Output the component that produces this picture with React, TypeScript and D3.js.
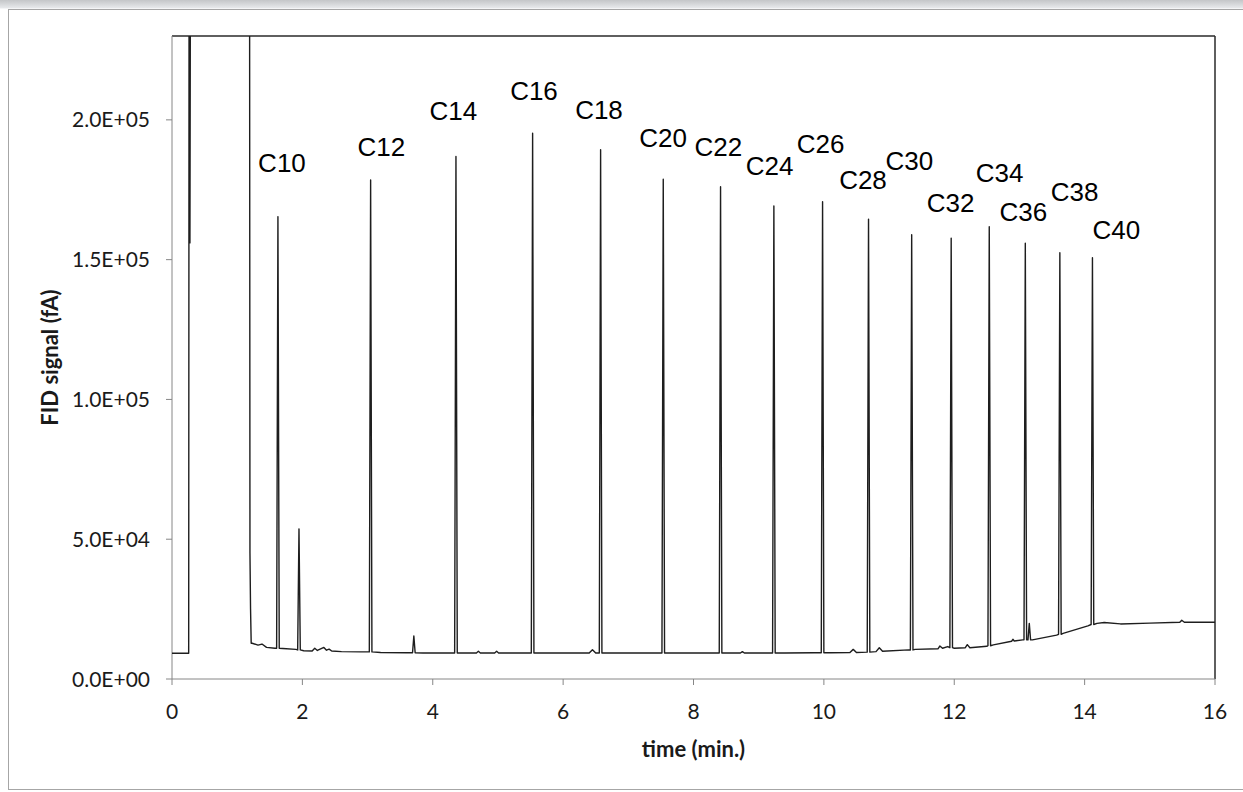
import React from 'react';
import * as d3 from 'd3';

// axis ticks
const xTicks = [0, 2, 4, 6, 8, 10, 12, 14, 16];
const yTicks = [0, 50000, 100000, 150000, 200000];

// n-alkane peaks (retention time in min, apex signal, baseline under the peak)
const carbonLabels = ['C10', 'C12', 'C14', 'C16', 'C18', 'C20', 'C22', 'C24', 'C26', 'C28', 'C30', 'C32', 'C34', 'C36', 'C38', 'C40'];
const carbonTimes = [1.625, 3.047, 4.356, 5.532, 6.575, 7.536, 8.415, 9.233, 9.98, 10.685, 11.347, 11.953, 12.537, 13.09, 13.62, 14.12];
const carbonHeights = [165400, 178500, 186900, 195200, 189300, 178800, 176100, 169200, 170700, 164500, 158900, 157700, 161800, 155900, 152500, 150700];
const carbonFoot = [11000, 9700, 9300, 9300, 9300, 9300, 9300, 9300, 9400, 9600, 10400, 11200, 11900, 14000, 16000, 19500];

// where each label sits (time, signal of text baseline)
const labelTimes = [1.687, 3.211, 4.315, 5.553, 6.55, 7.532, 8.38, 9.169, 9.951, 10.6, 11.31, 11.945, 12.697, 13.059, 13.847, 14.486];
const labelValues = [181400, 186900, 200000, 207200, 200400, 190200, 186900, 180200, 188100, 175200, 182100, 167200, 177900, 163900, 171100, 157300];

// unlabelled small peaks
const minorTimes = [1.948, 3.71, 13.151];
const minorHeights = [53700, 15400, 19900];
const minorFoot = [10400, 9400, 14000];

// solvent front (goes off scale)
const solventTrace: [number, number][] = [
  [0, 9200], [0.256, 9200], [0.262, 260000], [0.275, 156000], [0.283, 260000],
  [1.19, 260000], [1.196, 45000], [1.205, 25000], [1.215, 12800],
];

// baseline between peaks
const baselineTrace: [number, number][] = [
  [1.23, 12800], [1.32, 12100], [1.38, 12500], [1.45, 11300], [1.58, 11000],
  [1.7, 10900], [1.9, 10600], [2.02, 10100], [2.15, 10000], [2.19, 11000], [2.23, 10200],
  [2.33, 11300], [2.37, 10300], [2.41, 10700], [2.45, 10000], [2.6, 9800], [2.9, 9700],
  [3.2, 9500], [3.6, 9400], [3.85, 9300], [4.2, 9300], [4.5, 9300], [4.67, 9300],
  [4.7, 9900], [4.73, 9300], [4.95, 9300], [4.98, 9900], [5.01, 9300], [5.4, 9300],
  [5.7, 9300], [6.4, 9300], [6.45, 10500], [6.5, 9300], [6.7, 9300], [7.4, 9300],
  [7.7, 9300], [8.3, 9300], [8.55, 9300], [8.72, 9300], [8.75, 9800], [8.78, 9300],
  [9.1, 9300], [9.4, 9300], [9.85, 9400], [10.1, 9400], [10.4, 9500], [10.45, 10600],
  [10.5, 9500], [10.8, 9800], [10.85, 11200], [10.9, 9900], [11.3, 10400],
  [11.4, 10600], [11.75, 10800], [11.78, 11800], [11.82, 11000], [11.9, 11600],
  [12.0, 11000], [12.17, 11200], [12.2, 12300], [12.24, 11200], [12.5, 11700],
  [12.6, 12200], [12.88, 13500], [12.9, 14200], [12.92, 13600], [13.05, 14000],
  [13.2, 14000], [13.57, 15700], [13.67, 16300], [14.05, 19000], [14.19, 19900],
  [14.3, 20200], [14.55, 19700], [15.0, 20000], [15.46, 20300], [15.49, 21000],
  [15.53, 20300], [16.0, 20300],
];

const W = 1243;
const H = 792;
const left = 172;
const right = 1215;
const top = 36;
const bottom = 679;

const xScale = d3.scaleLinear().domain([0, 16]).range([left, right]);
const yScale = d3.scaleLinear().domain([0, 230000]).range([bottom, top]);

const sci = (v: number) => {
  const [m, e] = v.toExponential(1).split('e');
  const n = +e;
  return `${m}E${n < 0 ? '-' : '+'}${String(Math.abs(n)).padStart(2, '0')}`;
};

const halfWidth = 0.02;

const buildTrace = () => {
  const pts: [number, number][] = [...solventTrace, ...baselineTrace];
  const addPeak = (t: number, h: number, f: number) => {
    pts.push([t - halfWidth, f], [t, h], [t + halfWidth, f]);
  };
  carbonTimes.forEach((t, i) => addPeak(t, carbonHeights[i], carbonFoot[i]));
  minorTimes.forEach((t, i) => addPeak(t, minorHeights[i], minorFoot[i]));
  return pts.sort((a, b) => a[0] - b[0]);
};

const App = () => {
  const trace = buildTrace();
  const line = d3
    .line<[number, number]>()
    .x((d) => xScale(d[0]))
    .y((d) => yScale(d[1]));

  const tickFont = 'Lato, "Open Sans", sans-serif';

  return (
    <svg
      width={W}
      height={H}
      style={{ position: 'absolute', left: 0, top: 0, display: 'block' }}
    >
      <defs>
        <linearGradient id="topbar" x1="0" y1="0" x2="0" y2="1">
          <stop offset="0" stopColor="#c4c6c8" />
          <stop offset="1" stopColor="#e9ebed" />
        </linearGradient>
        <clipPath id="plotclip">
          <rect x={left} y={top} width={right - left} height={bottom - top} />
        </clipPath>
      </defs>
      <rect x={0} y={0} width={W} height={H} fill="#ffffff" />
      <rect x={0} y={0} width={W} height={8.5} fill="url(#topbar)" />
      <rect x={8.5} y={9.5} width={W} height={780} fill="#ffffff" stroke="#a6a6a6" />

      {/* plot frame */}
      <line x1={left} x2={right} y1={top} y2={top} stroke="#2a2a2a" strokeWidth={1.5} />
      <line x1={right} x2={right} y1={top} y2={bottom} stroke="#2a2a2a" strokeWidth={1.5} />

      {/* y axis */}
      <line x1={left} x2={left} y1={top} y2={bottom} stroke="#868686" strokeWidth={1} />
      {yTicks.map((v) => (
        <g key={v}>
          <line x1={left - 6} x2={left} y1={yScale(v)} y2={yScale(v)} stroke="#868686" />
          <text
            x={150}
            y={yScale(v) + 7.5}
            textAnchor="end"
            fontFamily={tickFont}
            fontSize={21}
            fill="#1a1a1a"
          >
            {sci(v)}
          </text>
        </g>
      ))}

      {/* x axis */}
      <line x1={left} x2={right} y1={bottom} y2={bottom} stroke="#868686" strokeWidth={1} />
      {xTicks.map((v) => (
        <g key={v}>
          <line x1={xScale(v)} x2={xScale(v)} y1={bottom} y2={bottom + 6} stroke="#868686" />
          <text
            x={xScale(v)}
            y={719}
            textAnchor="middle"
            fontFamily={tickFont}
            fontSize={21}
            fill="#1a1a1a"
          >
            {v}
          </text>
        </g>
      ))}

      <text
        x={(left + right) / 2}
        y={757}
        textAnchor="middle"
        fontFamily={tickFont}
        fontWeight="bold"
        fontSize={22}
        fill="#1a1a1a"
      >
        time (min.)
      </text>
      <text
        transform={`translate(58, ${(top + bottom) / 2}) rotate(-90)`}
        textAnchor="middle"
        fontFamily={tickFont}
        fontWeight="bold"
        fontSize={22}
        fill="#1a1a1a"
      >
        FID signal (fA)
      </text>

      {/* chromatogram */}
      <g clipPath="url(#plotclip)">
        <path
          d={line(trace) || ''}
          fill="none"
          stroke="#1e1e1e"
          strokeWidth={1.4}
          strokeLinejoin="round"
        />
      </g>

      {/* peak labels */}
      {carbonLabels.map((c, i) => (
        <text
          key={c}
          x={xScale(labelTimes[i])}
          y={yScale(labelValues[i])}
          textAnchor="middle"
          fontFamily='"Liberation Sans", Arial, sans-serif'
          fontSize={26}
          fill="#000000"
        >
          {c}
        </text>
      ))}
    </svg>
  );
};

export default App;
